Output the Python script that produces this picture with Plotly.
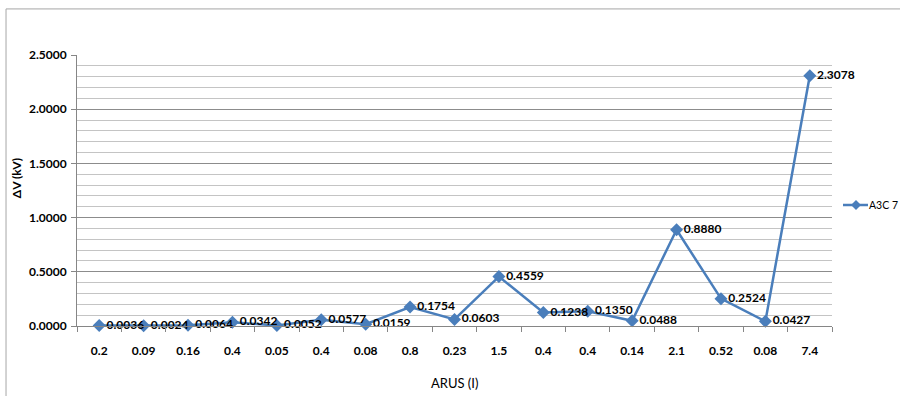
import plotly.graph_objects as go

categories = ["0.2", "0.09", "0.16", "0.4", "0.05", "0.4", "0.08", "0.8", "0.23",
              "1.5", "0.4", "0.4", "0.14", "2.1", "0.52", "0.08", "7.4"]
values = [0.0036, 0.0024, 0.0064, 0.0342, 0.0052, 0.0577, 0.0159, 0.1754, 0.0603,
          0.4559, 0.1238, 0.1350, 0.0488, 0.8880, 0.2524, 0.0427, 2.3078]
series_name = "A3C 7"
y_ticks = [0.0, 0.5, 1.0, 1.5, 2.0, 2.5]

line_color = "#4A7EBB"
x_idx = list(range(len(categories)))

fig = go.Figure()
fig.add_trace(go.Scatter(
    x=x_idx, y=values, name=series_name,
    mode="lines+markers+text",
    line=dict(color=line_color, width=2.5),
    marker=dict(symbol="diamond", size=10, color=line_color),
    text=[f"{v:.4f}" for v in values],
    textposition="middle right",
    textfont=dict(family="Lato", size=12, color="#000000", weight="bold"),
    cliponaxis=False,
    showlegend=False,
))

# manual legend (plotly's built-in legend would not fit in the narrow right margin)
leg_x0 = (843 - 77) / 755
leg_x1 = (868 - 77) / 755
leg_xc = (856 - 77) / 755
leg_y = (326 - 205) / 271

fig.update_layout(
    width=900, height=396,
    margin=dict(l=77, r=68, t=55, b=70),
    paper_bgcolor="white", plot_bgcolor="white",
    font=dict(family="Lato", size=12, color="#000000"),
    showlegend=False,
    xaxis=dict(
        range=[-0.5, len(categories) - 0.5],
        tickmode="array", tickvals=x_idx, ticktext=categories,
        showgrid=False, zeroline=False,
        showline=True, linecolor="#868686", linewidth=1,
        ticks="", tickfont=dict(family="Lato", size=12, color="#000000", weight="bold"),
        ticklabelstandoff=14,
        minor=dict(tickvals=[i - 0.5 for i in range(len(categories) + 1)],
                   ticks="outside", ticklen=5, tickcolor="#868686", showgrid=False),
    ),
    yaxis=dict(
        range=[0, 2.5],
        tickmode="array", tickvals=y_ticks, ticktext=[f"{t:.4f}" for t in y_ticks],
        showgrid=True, gridcolor="#8C8C8C", gridwidth=1,
        zeroline=False,
        showline=True, linecolor="#868686", linewidth=1,
        ticks="outside", ticklen=5, tickcolor="#868686",
        ticklabelstandoff=2,
        tickfont=dict(family="Lato", size=12, color="#000000", weight="bold"),
        minor=dict(dtick=0.1, showgrid=True, gridcolor="#C4C4C4", gridwidth=1),
    ),
    annotations=[
        dict(text="ARUS (I)", xref="paper", yref="paper", x=0.5, y=-0.21,
             xanchor="center", yanchor="middle", showarrow=False,
             font=dict(family="Lato", size=13, color="#000000")),
        dict(text="ΔV (kV)", xref="paper", yref="paper", x=-0.081, y=0.545,
             xanchor="center", yanchor="middle", showarrow=False, textangle=-90,
             font=dict(family="Lato", size=12, color="#000000", weight="bold")),
        dict(text=series_name, xref="paper", yref="paper", x=(899 - 77) / 755, y=leg_y,
             xanchor="right", yanchor="middle", showarrow=False, borderpad=0,
             font=dict(family="Lato", size=10.5, color="#000000")),
    ],
    shapes=[
        dict(type="rect", xref="paper", yref="paper",
             x0=-0.094, x1=1.2, y0=-0.4, y1=1.170,
             line=dict(color="#A6A6A6", width=1), layer="below"),
        dict(type="line", xref="paper", yref="paper",
             x0=leg_x0, x1=leg_x1, y0=leg_y, y1=leg_y,
             line=dict(color=line_color, width=2.5)),
        dict(type="path", xref="paper", yref="paper",
             xsizemode="pixel", ysizemode="pixel",
             xanchor=leg_xc, yanchor=leg_y,
             path="M 0 5 L 5 0 L 0 -5 L -5 0 Z",
             fillcolor=line_color, line=dict(color=line_color, width=0)),
    ],
)

fig.write_html("out.html")
